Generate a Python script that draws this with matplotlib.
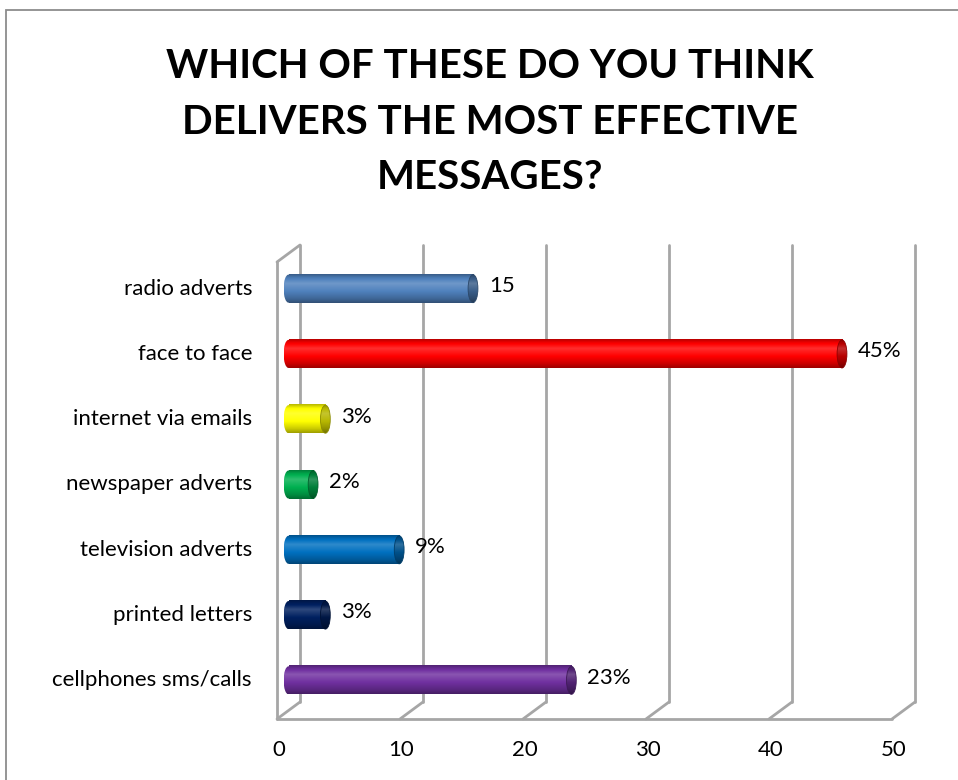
import numpy as np
import matplotlib
matplotlib.use("Agg")
import matplotlib.pyplot as plt
from matplotlib.patches import Ellipse, Rectangle
from matplotlib.transforms import ScaledTranslation
from matplotlib.colors import to_rgb

plt.rcParams['font.family'] = ['Lato', 'DejaVu Sans']

# --- survey results ---
categories = ["radio adverts", "face to face", "internet via emails",
              "newspaper adverts", "television adverts", "printed letters",
              "cellphones sms/calls"]
values = [15, 45, 3, 2, 9, 3, 23]
value_labels = ["15", "45%", "3%", "2%", "9%", "3%", "23%"]
bar_colors = ["#4f81bd", "#ff0000", "#ffff00", "#00b050", "#0070c0",
              "#002060", "#7030a0"]
x_ticks = [0, 10, 20, 30, 40, 50]
title = "WHICH OF THESE DO YOU THINK\nDELIVERS THE MOST EFFECTIVE\nMESSAGES?"

W, H, DPI = 958, 780, 100
fig = plt.figure(figsize=(W / DPI, H / DPI), dpi=DPI)

# chart border (runs off the right and bottom edges)
fig.patches.append(Rectangle((6 / W, -0.05), 1.2, (H - 10) / H + 0.05,
                             transform=fig.transFigure, fill=False,
                             edgecolor="#8c8c8c", lw=1.3))

# plane where the cylinders sit
ax = fig.add_axes([288.5 / W, (H - 713) / H, 615 / W, 457 / H])
ax.set_xlim(0, 50)
ax.set_ylim(len(categories) - 0.5, -0.5)
ax.axis("off")

def shift(dx, dy):
    return ax.transData + ScaledTranslation(dx / DPI, dy / DPI, fig.dpi_scale_trans)

back = shift(11.5, 11)
front = shift(-11.5, -6)
y_top, y_bot = -0.5, len(categories) - 0.5
grid = dict(color="#a6a6a6", lw=2.0, clip_on=False, solid_capstyle="round")

# back wall gridlines and floor slants
for v in x_ticks:
    ax.plot([v, v], [y_top, y_bot], transform=back, **grid)
    p_back = back.transform((v, y_bot))
    p_front = front.transform((v, y_bot))
    ax.plot([p_back[0], p_front[0]], [p_back[1], p_front[1]],
            transform=None, **grid)
# front floor edge
ax.plot([0, 50], [y_bot, y_bot], transform=front, **grid)
# left side wall
ax.plot([0, 0], [y_top, y_bot], transform=front, **grid)
p_back = back.transform((0, y_top))
p_front = front.transform((0, y_top))
ax.plot([p_back[0], p_front[0]], [p_back[1], p_front[1]], transform=None, **grid)

def shade(color, f):
    c = np.array(to_rgb(color))
    if f >= 1:
        return c + (1 - c) * (f - 1)
    return c * f

def gradient(color, n=60):
    t = np.linspace(0, 1, n)
    knots_t = [0.0, 0.12, 0.32, 0.6, 0.85, 1.0]
    knots_f = [0.72, 0.95, 1.18, 1.0, 0.8, 0.62]
    fs = np.interp(t, knots_t, knots_f)
    rows = np.array([np.clip(shade(color, f), 0, 1) for f in fs])
    return rows[:, None, :]

bar_h = 0.43
cap_w = 0.8
for i, (v, col) in enumerate(zip(values, bar_colors)):
    g = gradient(col)
    top, bot = i - bar_h / 2, i + bar_h / 2
    # body
    ax.imshow(g, extent=(0, v, bot, top), aspect="auto", origin="upper",
              interpolation="bilinear", zorder=3)
    # rounded left end
    left = Ellipse((0, i), cap_w, bar_h, transform=ax.transData)
    im = ax.imshow(g, extent=(-cap_w / 2, cap_w / 2, bot, top), aspect="auto",
                   origin="upper", interpolation="bilinear", zorder=3)
    im.set_clip_box(fig.bbox)
    im.set_clip_path(left)
    # right end cap, darker
    cap = Ellipse((v, i), cap_w, bar_h, transform=ax.transData)
    im = ax.imshow(gradient(shade(col, 0.72)), extent=(v - cap_w / 2, v + cap_w / 2, bot, top),
                   aspect="auto", origin="upper", interpolation="bilinear", zorder=4)
    im.set_clip_box(fig.bbox)
    im.set_clip_path(cap)
    ax.add_patch(Ellipse((v, i), cap_w, bar_h, fill=False, clip_on=False,
                         edgecolor=shade(col, 0.55), lw=0.6, zorder=5))
    # value label
    ax.text(v + 1.3, i - 0.04, value_labels[i], ha="left", va="center",
            fontsize=16, color="black", zorder=6, clip_on=False)

ax.set_xlim(0, 50)
ax.set_ylim(len(categories) - 0.5, -0.5)

# category labels
for i, name in enumerate(categories):
    ax.text(0, i, name, transform=shift(-36.5, 0), ha="right", va="center",
            fontsize=16, color="black")

# value axis labels along the front floor
for v in x_ticks:
    ax.text(v, y_bot, str(v), transform=shift(-10, -37), ha="center",
            va="center", fontsize=16, color="black")

fig.text(490 / W, 1 - 122 / H, title, ha="center", va="center",
         fontsize=29, fontweight="bold", linespacing=1.63)

fig.savefig("out.png", dpi=DPI)
